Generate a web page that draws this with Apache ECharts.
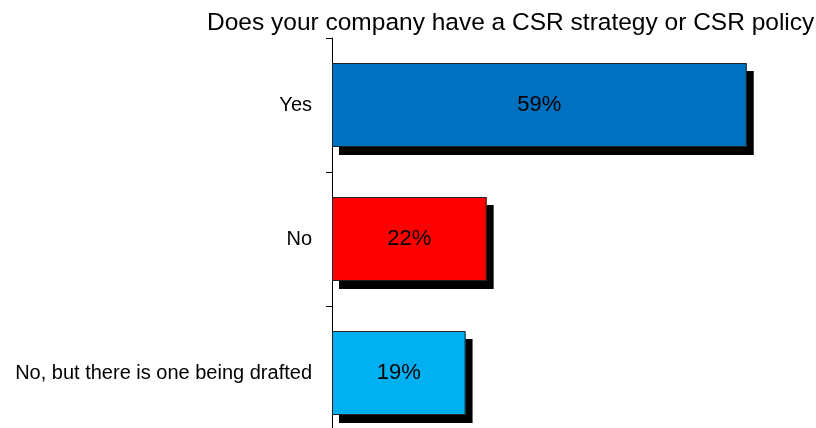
<!DOCTYPE html>
<html>
<head>
<meta charset="utf-8">
<script src="https://cdn.jsdelivr.net/npm/echarts@6/dist/echarts.min.js"></script>
<style>html,body{margin:0;padding:0;background:#fff;}#c{width:816px;height:428px;}</style>
</head>
<body>
<div id="c"></div>
<script>
var titleText = 'Does your company have a CSR strategy or CSR policy';
var categories = ['Yes', 'No', 'No, but there is one being drafted'];
var values = [59, 22, 19];
var barColors = ['#0070C0', '#FF0000', '#00B0F0'];

var chart = echarts.init(document.getElementById('c'), null, {renderer: 'canvas'});
var FONT = '"Liberation Sans", Arial, sans-serif';
chart.setOption({
  animation: false,
  backgroundColor: '#fff',
  title: {
    text: titleText,
    left: 207,
    top: 11,
    padding: 0,
    textStyle: {fontFamily: FONT, fontSize: 24.5, fontWeight: 'normal', color: '#000'}
  },
  grid: {left: 332, top: 38, height: 402, right: 6, outerBoundsMode: 'none', containLabel: false},
  xAxis: {
    type: 'value', min: 0, max: 68,
    show: false
  },
  yAxis: {
    type: 'category',
    data: categories,
    inverse: true,
    axisLine: {show: true, lineStyle: {color: '#000', width: 1}},
    axisTick: {show: true, length: 6, lineStyle: {color: '#000'}},
    axisLabel: {fontFamily: FONT, fontSize: 20, color: '#000', margin: 20}
  },
  series: [{
    type: 'bar',
    barWidth: 84,
    data: values.map(function (v, i) {
      return {value: v, itemStyle: {color: barColors[i]}};
    }),
    itemStyle: {
      borderWidth: 0,
      shadowColor: '#000', shadowOffsetX: 7, shadowOffsetY: 8, shadowBlur: 0
    },
    label: {
      show: true, position: 'inside',
      formatter: '{c}%',
      fontFamily: FONT, fontSize: 22, color: '#000'
    }
  }, {
    type: 'bar',
    barWidth: 84,
    barGap: '-100%',
    silent: true,
    data: values,
    itemStyle: {color: 'rgba(0,0,0,0)', borderColor: '#222', borderWidth: 1},
    label: {show: false}
  }]
});
</script>
</body>
</html>
